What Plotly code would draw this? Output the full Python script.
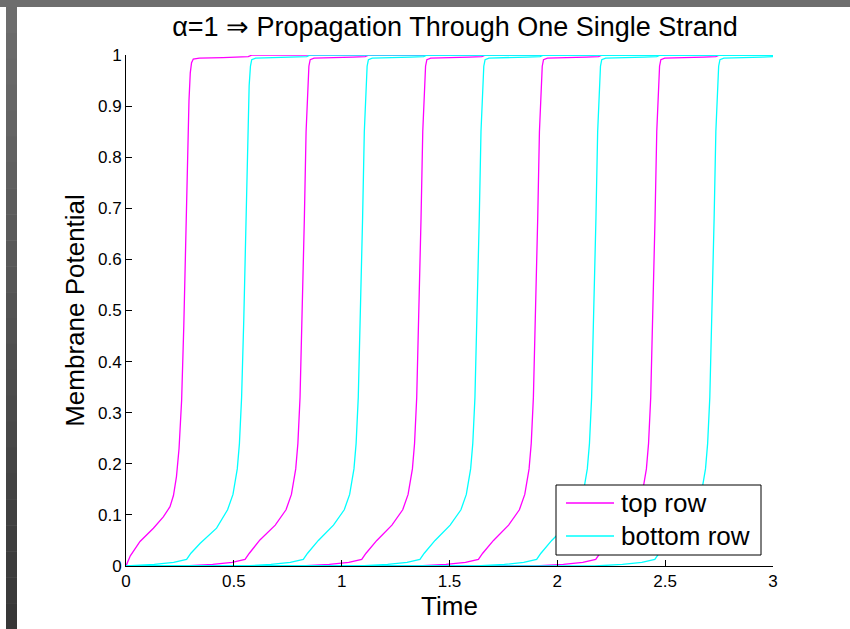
import plotly.graph_objects as go

# ---------------- data ----------------
# top row (magenta) cells
top_t = [
    [0, 0.02, 0.065, 0.127, 0.173, 0.204, 0.22, 0.234, 0.246, 0.258, 0.268, 0.277, 0.285, 0.292, 0.298, 0.304, 0.312, 0.34, 0.45, 0.567, 0.585, 3.0],
    [0, 0.272, 0.402, 0.492, 0.552, 0.572, 0.621, 0.692, 0.742, 0.767, 0.787, 0.797, 0.807, 0.817, 0.827, 0.835, 0.842, 0.848, 0.854, 0.872, 1.052, 1.109, 1.127, 3.0],
    [0, 0.813, 0.943, 1.033, 1.093, 1.113, 1.163, 1.233, 1.283, 1.308, 1.328, 1.338, 1.348, 1.358, 1.368, 1.376, 1.383, 1.389, 1.395, 1.413, 1.593, 1.65, 1.668, 3.0],
    [0, 1.354, 1.484, 1.574, 1.634, 1.654, 1.704, 1.774, 1.824, 1.849, 1.869, 1.879, 1.889, 1.899, 1.909, 1.917, 1.924, 1.93, 1.936, 1.954, 2.134, 2.191, 2.209, 3.0],
    [0, 1.898, 2.028, 2.118, 2.178, 2.198, 2.248, 2.318, 2.368, 2.393, 2.413, 2.423, 2.433, 2.443, 2.453, 2.461, 2.468, 2.474, 2.48, 2.498, 2.678, 2.735, 2.753, 3.0],
]
top_v = [
    [0, 0.02, 0.048, 0.074, 0.096, 0.116, 0.138, 0.175, 0.23, 0.325, 0.47, 0.66, 0.80, 0.91, 0.965, 0.985, 0.992, 0.994, 0.995, 0.997, 1.0, 1.0],
    [0, 0, 0.003, 0.007, 0.013, 0.025, 0.051, 0.08, 0.11, 0.14, 0.19, 0.24, 0.33, 0.48, 0.68, 0.85, 0.94, 0.978, 0.991, 0.994, 0.996, 0.997, 1.0, 1.0],
    [0, 0, 0.003, 0.007, 0.013, 0.025, 0.05, 0.08, 0.11, 0.14, 0.19, 0.24, 0.33, 0.48, 0.68, 0.85, 0.94, 0.978, 0.991, 0.994, 0.996, 0.997, 1.0, 1.0],
    [0, 0, 0.003, 0.007, 0.013, 0.025, 0.05, 0.08, 0.11, 0.14, 0.19, 0.24, 0.33, 0.48, 0.68, 0.85, 0.94, 0.978, 0.991, 0.994, 0.996, 0.997, 1.0, 1.0],
    [0, 0, 0.003, 0.007, 0.013, 0.025, 0.05, 0.08, 0.11, 0.14, 0.19, 0.24, 0.33, 0.48, 0.68, 0.85, 0.94, 0.978, 0.991, 0.994, 0.996, 0.997, 1.0, 1.0],
]
# bottom row (cyan) cells
bot_t = [
    [0, 0.131, 0.221, 0.281, 0.301, 0.343, 0.42, 0.471, 0.496, 0.516, 0.526, 0.536, 0.546, 0.556, 0.564, 0.571, 0.577, 0.583, 0.601, 0.781, 0.838, 0.856, 3.0],
    [0, 0.542, 0.672, 0.762, 0.822, 0.842, 0.892, 0.962, 1.012, 1.037, 1.057, 1.067, 1.077, 1.087, 1.097, 1.105, 1.112, 1.118, 1.124, 1.142, 1.322, 1.38, 1.397, 3.0],
    [0, 1.083, 1.213, 1.303, 1.363, 1.383, 1.433, 1.503, 1.553, 1.578, 1.598, 1.608, 1.618, 1.628, 1.638, 1.646, 1.653, 1.659, 1.665, 1.683, 1.863, 1.92, 1.938, 3.0],
    [0, 1.624, 1.754, 1.844, 1.904, 1.924, 1.974, 2.044, 2.094, 2.119, 2.139, 2.149, 2.159, 2.169, 2.179, 2.187, 2.194, 2.2, 2.206, 2.224, 2.404, 2.461, 2.479, 3.0],
    [0, 2.172, 2.302, 2.392, 2.452, 2.472, 2.522, 2.592, 2.642, 2.667, 2.687, 2.697, 2.707, 2.717, 2.727, 2.735, 2.742, 2.748, 2.754, 2.772, 2.95, 3.0],
]
bot_v = [
    [0, 0.003, 0.007, 0.013, 0.025, 0.044, 0.074, 0.11, 0.14, 0.19, 0.24, 0.33, 0.48, 0.68, 0.85, 0.94, 0.978, 0.991, 0.994, 0.996, 0.997, 1.0, 1.0],
    [0, 0, 0.003, 0.007, 0.013, 0.025, 0.05, 0.08, 0.11, 0.14, 0.19, 0.24, 0.33, 0.48, 0.68, 0.85, 0.94, 0.978, 0.991, 0.994, 0.996, 0.997, 1.0, 1.0],
    [0, 0, 0.003, 0.007, 0.013, 0.025, 0.05, 0.08, 0.11, 0.14, 0.19, 0.24, 0.33, 0.48, 0.68, 0.85, 0.94, 0.978, 0.991, 0.994, 0.996, 0.997, 1.0, 1.0],
    [0, 0, 0.003, 0.007, 0.013, 0.025, 0.05, 0.08, 0.11, 0.14, 0.19, 0.24, 0.33, 0.48, 0.68, 0.85, 0.94, 0.978, 0.991, 0.994, 0.996, 0.997, 1.0, 1.0],
    [0, 0, 0.003, 0.007, 0.013, 0.025, 0.05, 0.08, 0.11, 0.14, 0.19, 0.24, 0.33, 0.48, 0.68, 0.85, 0.94, 0.978, 0.991, 0.994, 0.996, 0.997],
]
series_names = ["top row", "bottom row"]
series_colors = ["#ff00ff", "#00ffff"]
x_ticks = [0, 0.5, 1, 1.5, 2, 2.5, 3]
x_tick_labels = ["0", "0.5", "1", "1.5", "2", "2.5", "3"]
y_ticks = [0, 0.1, 0.2, 0.3, 0.4, 0.5, 0.6, 0.7, 0.8, 0.9, 1]
y_tick_labels = ["0", "0.1", "0.2", "0.3", "0.4", "0.5", "0.6", "0.7", "0.8", "0.9", "1"]

# ---------------- figure ----------------
FONT = "Liberation Sans, Arial, sans-serif"
W, H = 850, 629
L, R, T, B = 126, 77, 55, 63
PW, PH = W - L - R, H - T - B

def px_x(p):
    return (p - L) / PW

def px_y(p):
    return (H - B - p) / PH

fig = go.Figure()
for i, (t, v) in enumerate(zip(top_t, top_v)):
    fig.add_trace(go.Scatter(x=t, y=v, mode="lines", name=series_names[0],
                             legendgroup="top", showlegend=False,
                             line=dict(color=series_colors[0], width=1.3)))
for i, (t, v) in enumerate(zip(bot_t, bot_v)):
    fig.add_trace(go.Scatter(x=t, y=v, mode="lines", name=series_names[1],
                             legendgroup="bot", showlegend=False,
                             line=dict(color=series_colors[1], width=1.3)))

shapes = []
# top gray band
shapes.append(dict(type="rect", xref="paper", yref="paper", x0=px_x(0), x1=px_x(W),
                   y0=px_y(7), y1=px_y(0), fillcolor="#6e6e6e", line=dict(width=0)))
# left gray band (darkening downward)
n = 24
c0, c1 = 0x6e, 0x36
for k in range(n):
    ya = 7 + (H - 7) * k / n
    yb = 7 + (H - 7) * (k + 1) / n
    c = int(round(c0 + (c1 - c0) * (k + 0.5) / n))
    col = "#%02x%02x%02x" % (c, c, c)
    shapes.append(dict(type="rect", xref="paper", yref="paper", x0=px_x(6), x1=px_x(17),
                       y0=px_y(yb + 0.5), y1=px_y(ya), fillcolor=col, line=dict(width=0)))

# legend box (drawn to match the MATLAB legend geometry)
shapes.append(dict(type="rect", xref="paper", yref="paper", x0=px_x(556), x1=px_x(761),
                   y0=px_y(555), y1=px_y(485), fillcolor="white",
                   line=dict(color="black", width=1), layer="above"))
annotations = []
for j, (name, col, yc) in enumerate(zip(series_names, series_colors, [503, 536])):
    shapes.append(dict(type="line", xref="paper", yref="paper", x0=px_x(566), x1=px_x(614),
                       y0=px_y(yc), y1=px_y(yc), line=dict(color=col, width=1.3), layer="above"))
    annotations.append(dict(text=name, xref="paper", yref="paper", x=px_x(619), y=px_y(yc),
                            xanchor="left", yanchor="middle", showarrow=False,
                            font=dict(size=26, family=FONT, color="black")))

fig.update_layout(
    width=W, height=H,
    margin=dict(l=L, r=R, t=T, b=B, pad=0),
    paper_bgcolor="white", plot_bgcolor="white",
    font=dict(family=FONT, color="black"),
    title=dict(text="α=1 ⇒ Propagation Through One Single Strand",
               xref="paper", x=px_x(455), xanchor="center",
               yref="container", y=1 - 27 / H, yanchor="middle",
               font=dict(size=27, family=FONT, color="black")),
    xaxis=dict(range=[0, 3], tickvals=x_ticks, ticktext=x_tick_labels,
               showline=True, linecolor="black", linewidth=1, mirror=False,
               ticks="inside", ticklen=6, tickcolor="black", showgrid=False, zeroline=False,
               tickfont=dict(size=17, family=FONT),
               title=dict(text="Time", font=dict(size=26, family=FONT), standoff=2)),
    yaxis=dict(range=[0, 1], tickvals=y_ticks, ticktext=y_tick_labels,
               showline=True, linecolor="black", linewidth=1, mirror=False,
               ticks="inside", ticklen=6, tickcolor="black", showgrid=False, zeroline=False,
               tickfont=dict(size=17, family=FONT),
               title=dict(text="Membrane Potential", font=dict(size=26, family=FONT), standoff=5)),
    shapes=shapes,
    annotations=annotations,
    showlegend=False,
)

fig.write_html("out.html", config={"displayModeBar": False},
               post_script="document.body.style.margin='0';document.body.style.padding='0';")
